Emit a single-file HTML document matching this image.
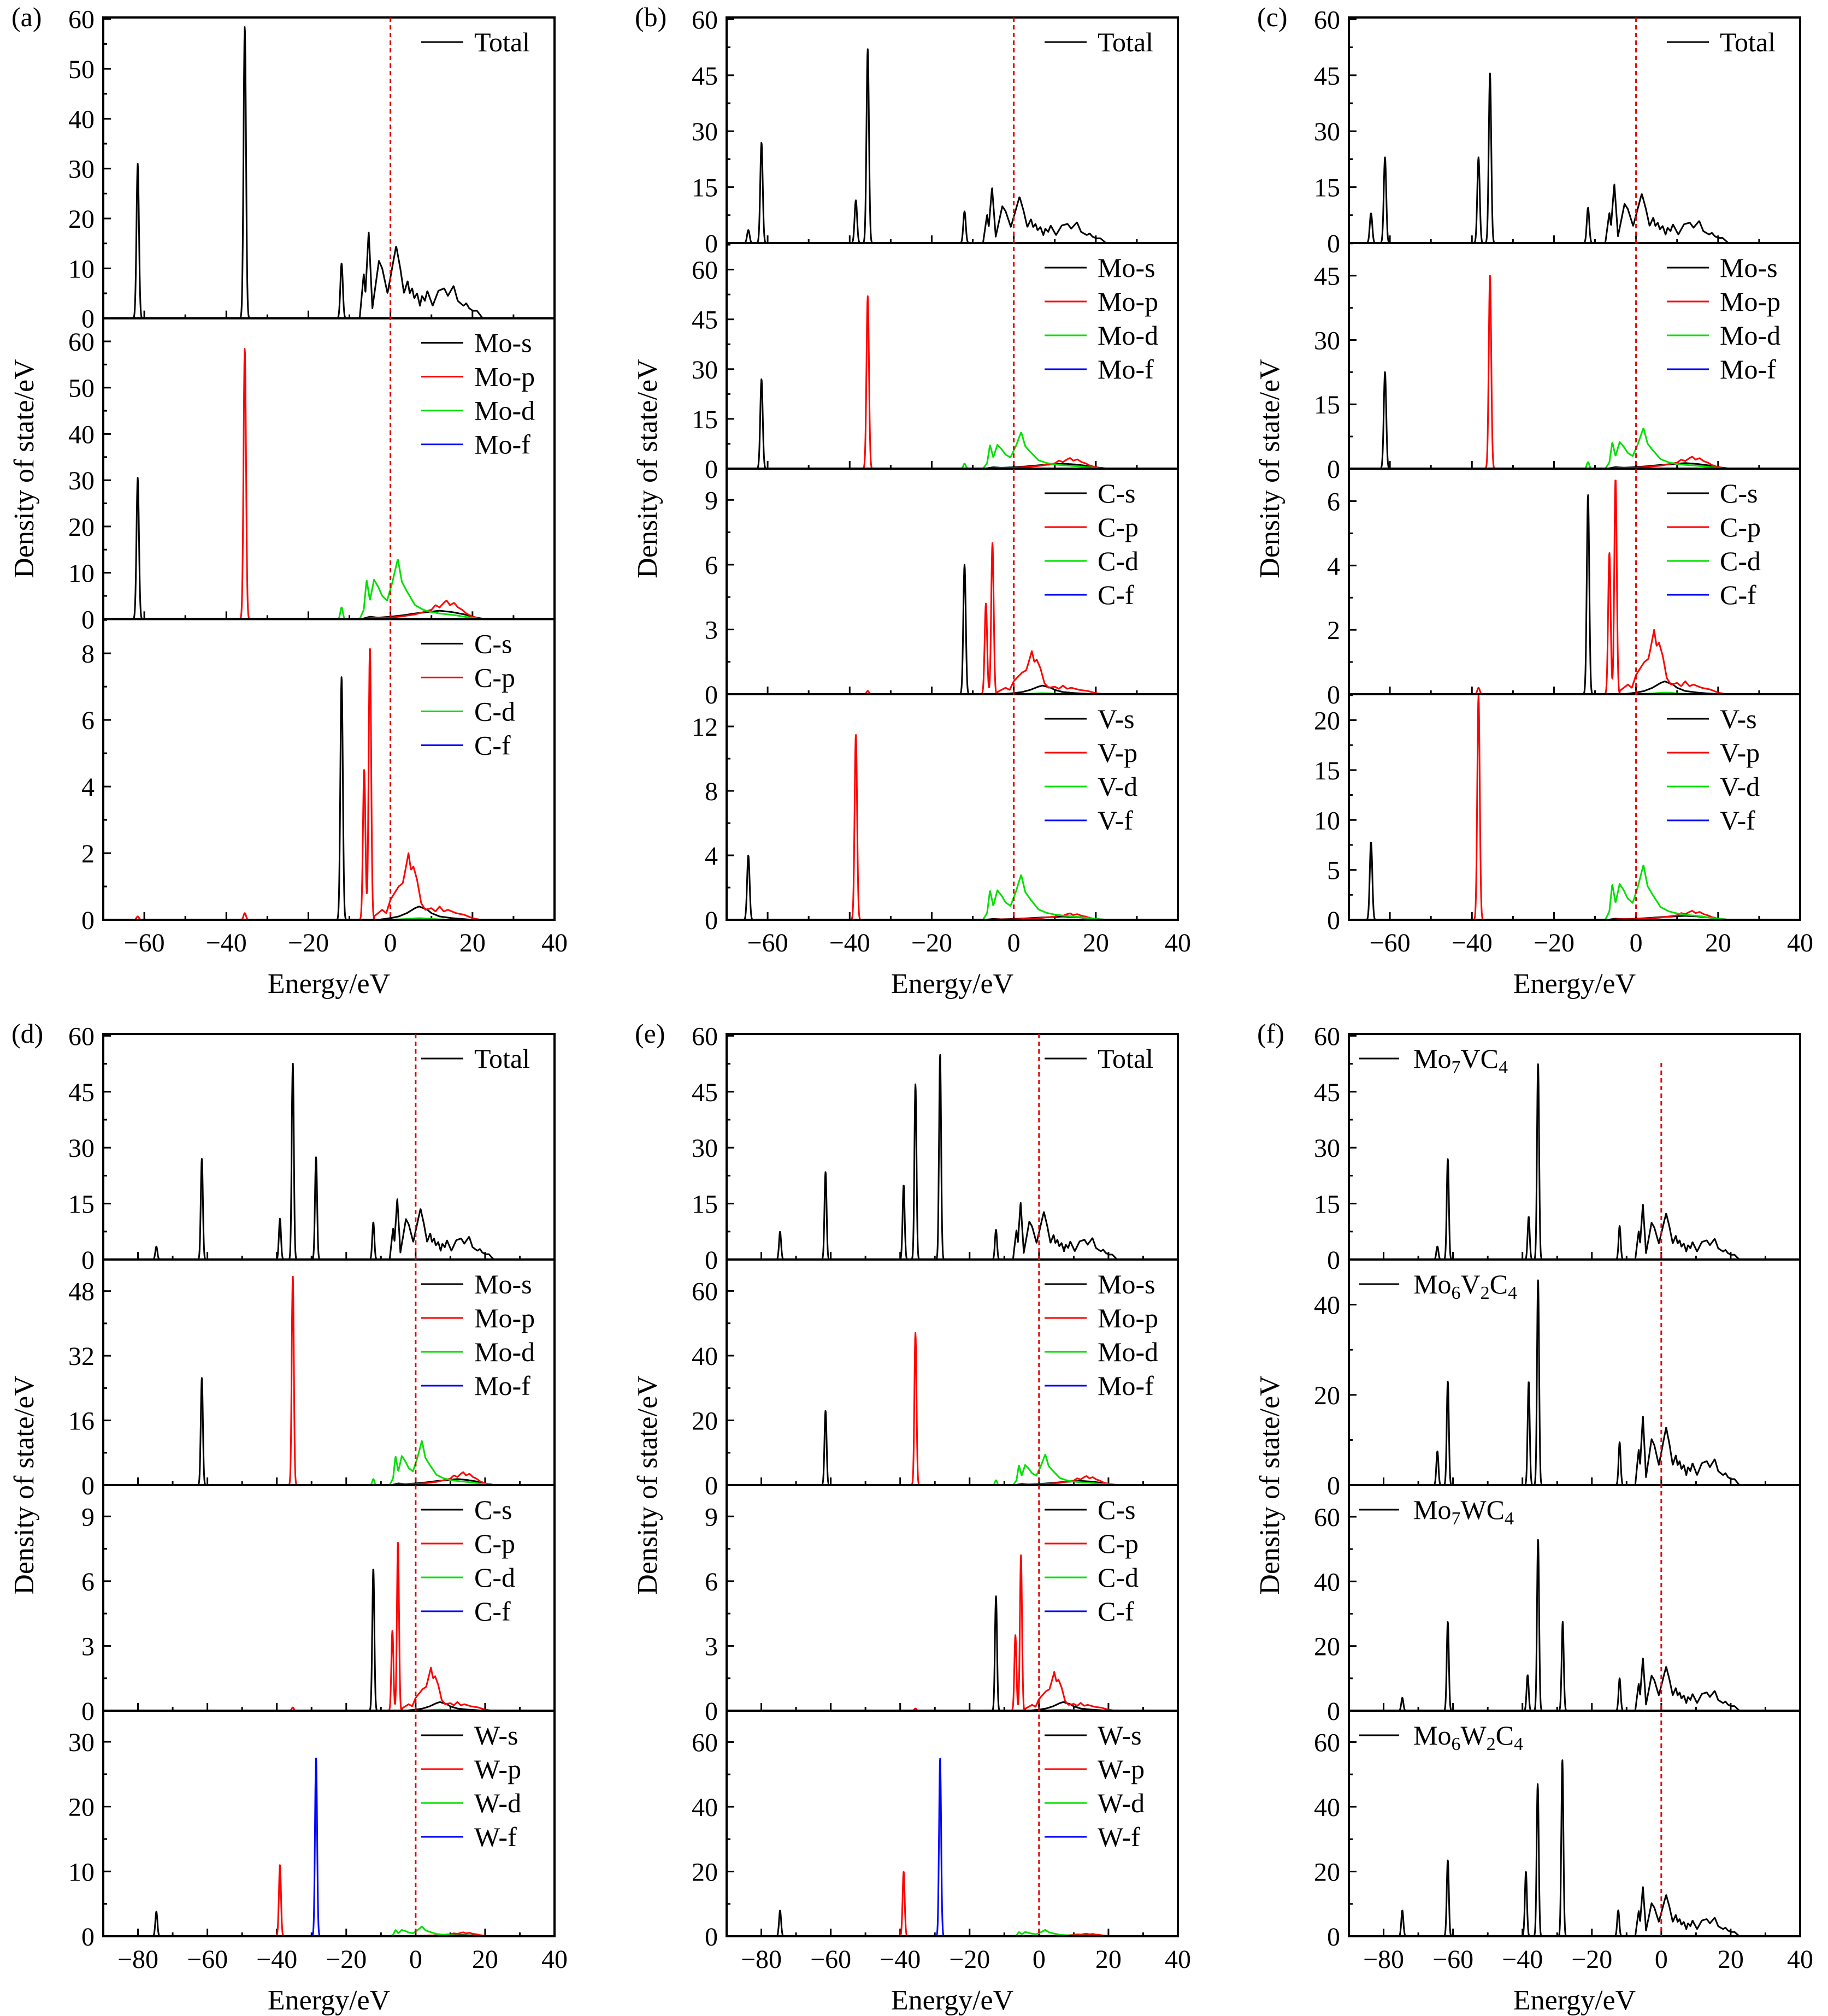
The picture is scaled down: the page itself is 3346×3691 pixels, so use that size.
<!DOCTYPE html>
<html><head><meta charset="utf-8">
<style>
html,body{margin:0;padding:0;background:#fff;}
svg{display:block;}
text{font-family:"Liberation Serif",serif;fill:#000;}
</style></head>
<body>
<svg id="fig" xmlns="http://www.w3.org/2000/svg" width="3346" height="3691" viewBox="0 0 3346 3691"></svg>
<script>
// ---------- band shapes (energy grid / values) ----------
const TOT_E = [-7.5,-6.5,-6.1,-5.3,-4.4,-2.8,-2.0,-0.7,1.4,2.4,3.3,4.2,4.7,5.3,5.8,6.5,7.2,7.7,8.4,9,10.3,11.7,13.1,14,15.4,16.4,17.8,18.5,19.2,20.1,21.1,22.5];
const TOT_V = [0,9,5,17.5,2,11.5,10,5,14.5,10,5,7.5,5,6,4,5,2.5,4.5,3.5,5.5,2.5,5.5,6,4.5,6.5,3.5,2.5,3,2,1.5,1.5,0];
const MOD_E = [-7.5,-6.5,-5.8,-5,-4,-3,-2,-0.8,0.5,1.8,2.8,4,5,6,7,8,10,12,14,16,18,20,22];
const MOD_V = [0,2,8.5,4,8.5,7,5,4,8,13,8,6,4.5,3,2.5,2,1.5,1.2,1,0.8,0.5,0.3,0];
const MOP_E = [-7,-4,0,3,6,8,10,11,12,13,13.7,14.5,15.5,16.5,17.5,18.5,20,22];
const MOP_V = [0,0.3,0.3,0.6,1,1.5,2,3,2.5,3.5,4,3,3.5,2.5,2,1.2,0.5,0];
const MOS_E = [-7,-5,-3,0,3,6,9,12,15,18,21,23];
const MOS_V = [0,0.5,0.3,0.5,0.8,1.2,1.5,1.8,1.5,1,0.3,0];
const CP_E = [-4,-2,-1,0,1,2,3,3.5,4.4,5,5.6,6.5,7.5,8.5,10,11,12,13,14,16,18,20,22];
const CP_V = [0.1,0.3,0.2,0.6,0.8,1,1.1,1.4,2,1.5,1.6,1.2,0.5,0.3,0.35,0.25,0.4,0.25,0.3,0.2,0.15,0.05,0];
const CS_E = [-3,0,2,4,6,7,8,9,10,12,15,20];
const CS_V = [0,0.05,0.1,0.2,0.35,0.4,0.35,0.3,0.2,0.1,0.05,0];

// ---------- spike data [energy, height] ----------
const A_TOT = [[-61.6,31],[-35.5,58.5],[-11.9,11]];
const A_MOS = [[-61.6,30.5]]; const A_MOP = [[-35.5,58.5]]; const A_MOD = [[-11.9,2.5]];
const A_CS = [[-11.9,7.3]]; const A_CP = [[-61.6,0.1],[-35.5,0.2],[-6.4,4.5],[-5,8.2]];
const B_TOT = [[-64.7,3.5],[-61.5,27],[-38.5,11.5],[-35.6,52],[-12,8.5]];
const B_MOS = [[-61.5,27]]; const B_MOP = [[-35.6,52]]; const B_MOD = [[-12,1.5]];
const B_CS = [[-12,6]]; const B_CP = [[-35.6,0.15],[-6.8,4.2],[-5.2,7]];
const B_VS = [[-64.7,4]]; const B_VP = [[-38.5,11.5]];
const C_TOT = [[-64.6,8],[-61.2,23],[-38.4,23],[-35.6,45.5],[-11.7,9.5]];
const C_MOS = [[-61.2,22.5]]; const C_MOP = [[-35.6,45]]; const C_MOD = [[-11.7,1.5]];
const C_CS = [[-11.7,6.2]]; const C_CP = [[-38.4,0.2],[-6.5,4.4],[-5,6.7]];
const C_VS = [[-64.6,7.8]]; const C_VP = [[-38.4,22.5]];
const D_TOT = [[-74.7,3.5],[-61.6,27],[-39.1,11],[-35.4,53],[-28.7,27.5],[-12.2,10]];
const D_MOS = [[-61.6,26.5]]; const D_MOP = [[-35.4,52]]; const D_MOD = [[-12.2,1.5]];
const D_CS = [[-12.2,6.6]]; const D_CP = [[-35.4,0.15],[-6.7,3.7],[-5.1,7.8]];
const D_WS = [[-74.7,3.8]]; const D_WP = [[-39.1,11]]; const D_WF = [[-28.7,27.5]];
const E_TOT = [[-74.6,7.5],[-61.5,23.5],[-39,20],[-35.6,47],[-28.5,55],[-12.4,8]];
const E_MOS = [[-61.5,23]]; const E_MOP = [[-35.6,47]]; const E_MOD = [[-12.4,1.5]];
const E_CS = [[-12.4,5.3]]; const E_CP = [[-35.6,0.1],[-6.8,3.5],[-5.2,7.2]];
const E_WS = [[-74.6,8]]; const E_WP = [[-39,20]]; const E_WF = [[-28.5,55]];
const F1 = [[-64.5,3.5],[-61.5,27],[-38.2,11.5],[-35.5,52.5],[-12,9]];
const F2 = [[-64.5,7.5],[-61.5,23],[-38.2,23],[-35.5,45.5],[-12,9.5]];
const F3 = [[-74.6,4],[-61.5,27.5],[-38.5,11],[-35.5,53],[-28.4,27.5],[-12,10]];
const F4 = [[-74.6,8],[-61.5,23.5],[-39,20],[-35.6,47],[-28.5,54.5],[-12.4,8]];

const SHAPES = {TOT:[TOT_E,TOT_V], MOD:[MOD_E,MOD_V], MOP:[MOP_E,MOP_V], MOS:[MOS_E,MOS_V], CP:[CP_E,CP_V], CS:[CS_E,CS_V]};
const K='#000', R='#ff0000', G='#00e000', B='#0000ff';

const PANELS = [
 {id:'a', col:0, row:0, xmin:-70, subs:[
   {ymax:60.3, step:10, series:[['Total',K,A_TOT,'TOT',17.5]]},
   {ymax:65, step:10, series:[['Mo-s',K,A_MOS,'MOS',1.8],['Mo-p',R,A_MOP,'MOP',4],['Mo-d',G,A_MOD,'MOD',13],['Mo-f',B,[],null,0]]},
   {ymax:9.03, step:2, series:[['C-s',K,A_CS,'CS',0.4],['C-p',R,A_CP,'CP',2],['C-d',G,[],'CS',0.05],['C-f',B,[],null,0]]}]},
 {id:'b', col:1, row:0, xmin:-70, subs:[
   {ymax:60.5, step:15, series:[['Total',K,B_TOT,'TOT',15]]},
   {ymax:68, step:15, series:[['Mo-s',K,B_MOS,'MOS',1.5],['Mo-p',R,B_MOP,'MOP',3.2],['Mo-d',G,B_MOD,'MOD',11],['Mo-f',B,[],null,0]]},
   {ymax:10.45, step:3, series:[['C-s',K,B_CS,'CS',0.4],['C-p',R,B_CP,'CP',2],['C-d',G,[],'CS',0.05],['C-f',B,[],null,0]]},
   {ymax:14, step:4, series:[['V-s',K,B_VS,'MOS',0.2],['V-p',R,B_VP,'MOP',0.4],['V-d',G,[],'MOD',2.8],['V-f',B,[],null,0]]}]},
 {id:'c', col:2, row:0, xmin:-70, subs:[
   {ymax:60.5, step:15, series:[['Total',K,C_TOT,'TOT',16]]},
   {ymax:52.6, step:15, series:[['Mo-s',K,C_MOS,'MOS',1.3],['Mo-p',R,C_MOP,'MOP',2.8],['Mo-d',G,C_MOD,'MOD',9.5],['Mo-f',B,[],null,0]]},
   {ymax:7.01, step:2, series:[['C-s',K,C_CS,'CS',0.4],['C-p',R,C_CP,'CP',2],['C-d',G,[],'CS',0.05],['C-f',B,[],null,0]]},
   {ymax:22.6, step:5, series:[['V-s',K,C_VS,'MOS',0.4],['V-p',R,C_VP,'MOP',0.9],['V-d',G,[],'MOD',5.5],['V-f',B,[],null,0]]}]},
 {id:'d', col:0, row:1, xmin:-90, subs:[
   {ymax:60.5, step:15, series:[['Total',K,D_TOT,'TOT',16.5]]},
   {ymax:55.8, step:16, series:[['Mo-s',K,D_MOS,'MOS',1.5],['Mo-p',R,D_MOP,'MOP',3.2],['Mo-d',G,D_MOD,'MOD',11],['Mo-f',B,[],null,0]]},
   {ymax:10.45, step:3, series:[['C-s',K,D_CS,'CS',0.4],['C-p',R,D_CP,'CP',2],['C-d',G,[],'CS',0.05],['C-f',B,[],null,0]]},
   {ymax:34.8, step:10, series:[['W-s',K,D_WS,'MOS',0.2],['W-p',R,D_WP,'MOP',0.6],['W-d',G,[],'MOD',1.5],['W-f',B,D_WF,null,0]]}]},
 {id:'e', col:1, row:1, xmin:-90, subs:[
   {ymax:60.5, step:15, series:[['Total',K,E_TOT,'TOT',15.5]]},
   {ymax:69.7, step:20, series:[['Mo-s',K,E_MOS,'MOS',1.3],['Mo-p',R,E_MOP,'MOP',2.8],['Mo-d',G,E_MOD,'MOD',9.5],['Mo-f',B,[],null,0]]},
   {ymax:10.45, step:3, series:[['C-s',K,E_CS,'CS',0.4],['C-p',R,E_CP,'CP',1.8],['C-d',G,[],'CS',0.05],['C-f',B,[],null,0]]},
   {ymax:69.7, step:20, series:[['W-s',K,E_WS,'MOS',0.3],['W-p',R,E_WP,'MOP',0.8],['W-d',G,[],'MOD',2],['W-f',B,E_WF,null,0]]}]},
 {id:'f', col:2, row:1, xmin:-90, legendLeft:true, fermiTop:1946, subs:[
   {ymax:60.5, step:15, series:[['Mo|7|VC|4',K,F1,'TOT',15]]},
   {ymax:50, step:20, series:[['Mo|6|V|2|C|4',K,F2,'TOT',15.5]]},
   {ymax:69.8, step:20, series:[['Mo|7|WC|4',K,F3,'TOT',16.5]]},
   {ymax:69.7, step:20, series:[['Mo|6|W|2|C|4',K,F4,'TOT',15.5]]}]}
];

const COL_L = [189, 1330, 2469], BOX_W = 826;
const ROW_T = [32, 1893], ROW_H = 1652;
const NS='http://www.w3.org/2000/svg';
const svg=document.getElementById('fig');
function el(tag, attrs, parent){const e=document.createElementNS(NS,tag);for(const k in attrs)e.setAttribute(k,attrs[k]);(parent||svg).appendChild(e);return e;}
function fmt(v){const s=String(Math.round(v*100)/100);return v<0?'\u2212'+s.slice(1):s;}
function bandAt(shape,peak,E){
  if(!shape||!peak)return 0;const [xs,vs]=SHAPES[shape];
  if(E<=xs[0]||E>=xs[xs.length-1])return 0;
  let mx=Math.max(...vs);
  for(let i=0;i<xs.length-1;i++){if(E>=xs[i]&&E<=xs[i+1]){const t=(E-xs[i])/(xs[i+1]-xs[i]);return (vs[i]+(vs[i+1]-vs[i])*t)*peak/mx;}}
  return 0;
}
let clipId=0;
PANELS.forEach(p=>{
  const L=COL_L[p.col], top=ROW_T[p.row], n=p.subs.length, h=ROW_H/n, xmax=40;
  const xs=E=>L+(E-p.xmin)/(xmax-p.xmin)*BOX_W;
  const g=el('g',{});
  
  
  const pl=el('text',{x:L-168,y:top+16,'font-size':50},g);pl.textContent='('+p.id+')';
  
  
  p.subs.forEach((s,si)=>{
    const t=top+si*h, b=t+h;
    const ys=v=>b-v/s.ymax*h;
    const sg=el('g',{},g);
    
    
    const cid='c'+(clipId++);
    const cp=el('clipPath',{id:cid},sg);el('rect',{x:L,y:t,width:BOX_W,height:h},cp);
    for(let v=0;v<=s.ymax+1e-6;v+=s.step/2){
      const major=Math.abs(v/s.step-Math.round(v/s.step))<1e-6;
      const tk=el('line',{x1:L,x2:L+(major?14:7),y1:ys(v),y2:ys(v),stroke:'#000','stroke-width':3},sg);
      
      
      if(major){const tl=el('text',{x:L-16,y:ys(v)+17,'font-size':48,'text-anchor':'end'},sg);tl.textContent=fmt(v);
        
        }
    }
    for(let E=Math.ceil(p.xmin/10)*10;E<=xmax;E+=10){
      if(E<=p.xmin)continue;
      const major=E%20===0;
      const tk=el('line',{x1:xs(E),x2:xs(E),y1:b,y2:b-(major?14:7),stroke:'#000','stroke-width':3},sg);
      
      
      if(major&&si===n-1){const tl=el('text',{x:xs(E),y:b+58,'font-size':48,'text-anchor':'middle'},sg);tl.textContent=fmt(E);
        
        }
    }
    s.series.forEach((se,k)=>{
      const [label,color,spikes,shape,peak]=se;
      let d='';
      for(let E=p.xmin;E<=xmax;E+=0.08){
        let v=bandAt(shape,peak,E);
        spikes.forEach(([e,hh])=>{const z=(E-e)/0.3;if(Math.abs(z)<5)v+=hh*Math.exp(-0.5*z*z);});
        d+=(d?'L':'M')+xs(E).toFixed(1)+','+ys(v).toFixed(1);
      }
      const path=el('path',{d:d,fill:'none',stroke:color,'stroke-width':3,'stroke-linejoin':'round','clip-path':'url(#'+cid+')'},sg);
      
      
      const ly=t+45+k*62;
      let lx1,lx2,tx;
      if(p.legendLeft){lx1=L+19;lx2=L+92;tx=L+118;}else{lx1=L+BOX_W-244;lx2=L+BOX_W-167;tx=L+BOX_W-147;}
      const ll=el('line',{x1:lx1,x2:lx2,y1:ly,y2:ly,stroke:color,'stroke-width':3},sg);
      
      
      const lt=el('text',{x:tx,y:ly+17,'font-size':50},sg);
      
      
      const parts=label.split('|');
      parts.forEach((pt,i)=>{const ts=el('tspan',{},lt);ts.textContent=pt;
        if(i%2===1){ts.setAttribute('font-size','34');ts.setAttribute('dy','10');}
        else if(i>0){ts.setAttribute('dy','-10');}});
    });
    const bx=el('rect',{x:L,y:t,width:BOX_W,height:h,fill:'none',stroke:'#000','stroke-width':4},sg);
    
    
  });
  const fl=el('line',{x1:xs(0),x2:xs(0),y1:p.fermiTop||top,y2:top+ROW_H,stroke:'#e00000','stroke-width':3,'stroke-dasharray':'8 6'},g);
  
  
  const xt=el('text',{x:L+BOX_W/2,y:top+ROW_H+134,'font-size':52,'text-anchor':'middle'},g);
  xt.textContent='Energy/eV';
  
  
  const cy=top+ROW_H/2, cx=L-128;
  const yt=el('text',{x:cx,y:cy,'font-size':52,'text-anchor':'middle',transform:'rotate(-90 '+cx+' '+cy+')'},g);
  yt.textContent='Density of state/eV';
  
  
});
</script>
</body></html>
